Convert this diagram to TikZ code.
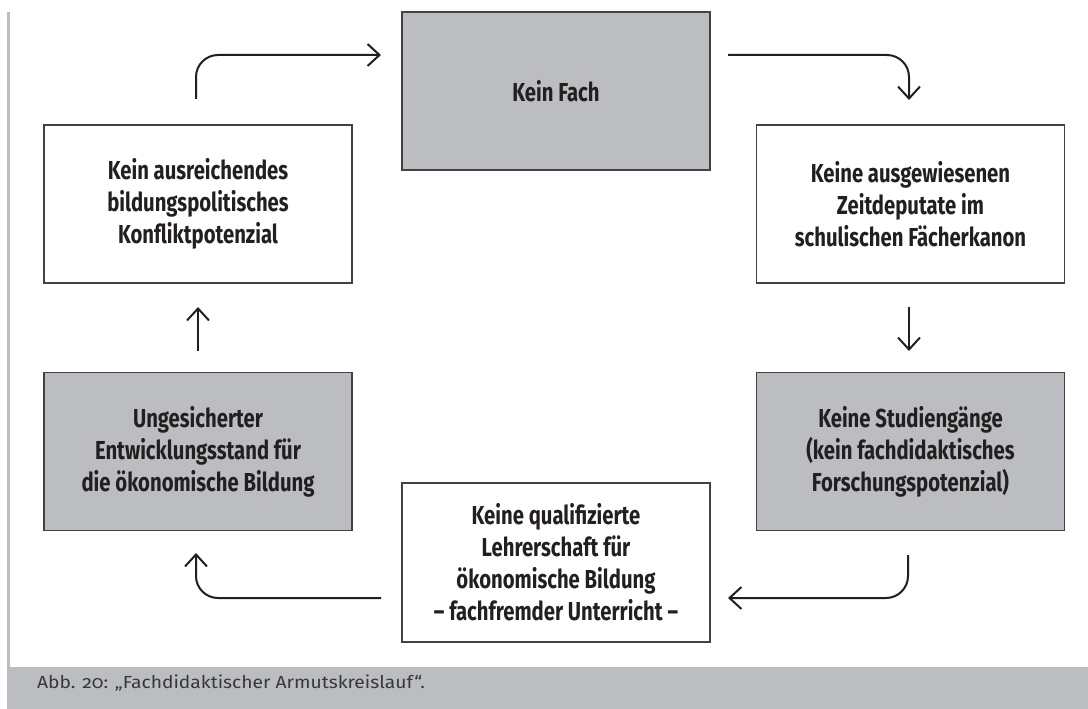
\documentclass[tikz,border=0pt]{standalone}
\usepackage{fontspec}
\setmainfont{Fira Sans}
\newfontfamily\boxfont[FakeStretch=0.78]{Fira Sans}
\newfontfamily\capfont[Numbers=OldStyle,FakeStretch=1.1]{Fira Sans}
\usetikzlibrary{arrows.meta}
\definecolor{boxgray}{HTML}{BCBDC0}
\definecolor{ink}{HTML}{231F20}
\definecolor{capink}{HTML}{38383A}
\tikzset{
  stbox/.style={draw=ink!85, line width=1.3pt, minimum width=308pt, minimum height=158pt, inner sep=0pt,
    align=center, text=ink, font=\boxfont\bfseries\fontsize{26}{32}\selectfont},
  graybox/.style={stbox, fill=boxgray},
  whitebox/.style={stbox, fill=white},
  flow/.style={draw=ink, line width=2pt, rounded corners=22pt,
    -{Straight Barb[length=12pt,width=22pt,line width=2pt]}},
}
\begin{document}
\begin{tikzpicture}[x=1pt,y=-1pt]
\useasboundingbox (0,0) rectangle (1088,709);
\fill[white] (0,0) rectangle (1088,709);
% left rule and caption bar
\fill[boxgray] (7,12) rectangle (10,667);
\fill[boxgray] (7,667) rectangle (1088,709);
\node[anchor=base west, text=capink, font=\capfont\fontsize{17.5}{20}\selectfont, inner sep=0pt] (cap) at (37,688)
  {Abb. 20: „Fachdidaktischer Armutskreislauf“.};
% boxes
\node[graybox]  (fach) at (556,91)  {Kein Fach};
\node[whitebox] (konf) at (198,204) {Kein ausreichendes\\bildungspolitisches\\Konfliktpotenzial};
\node[whitebox] (zeit) at (910.5,204) {Keine ausgewiesenen\\Zeitdeputate im\\schulischen Fächerkanon};
\node[graybox]  (entw) at (198,451.5) {Ungesicherter\\Entwicklungsstand für\\die ökonomische Bildung};
\node[graybox]  (stud) at (910.5,451.5) {Keine Studiengänge\\(kein fachdidaktisches\\Forschungspotenzial)};
\node[whitebox, minimum height=159pt] (lehr) at (556,562.5) {Keine qualifizierte\\Lehrerschaft für\\ökonomische Bildung\\– fachfremder Unterricht –};
% arrow end points
\coordinate (a1s) at (196,99);  \coordinate (a1e) at (381,55);
\coordinate (a2s) at (728,55);  \coordinate (a2e) at (909,100);
\coordinate (a3s) at (909,307); \coordinate (a3e) at (909,351);
\coordinate (a4s) at (908,555); \coordinate (a4e) at (728,598);
\coordinate (a5s) at (381,598); \coordinate (a5e) at (196,553);
\coordinate (a6s) at (198,351); \coordinate (a6e) at (198,307);
\draw[flow] (a1s) |- (a1e);
\draw[flow] (a2s) -| (a2e);
\draw[flow] (a3s) -- (a3e);
\draw[flow] (a4s) |- (a4e);
\draw[flow] (a5s) -| (a5e);
\draw[flow] (a6s) -- (a6e);
\end{tikzpicture}
\end{document}
